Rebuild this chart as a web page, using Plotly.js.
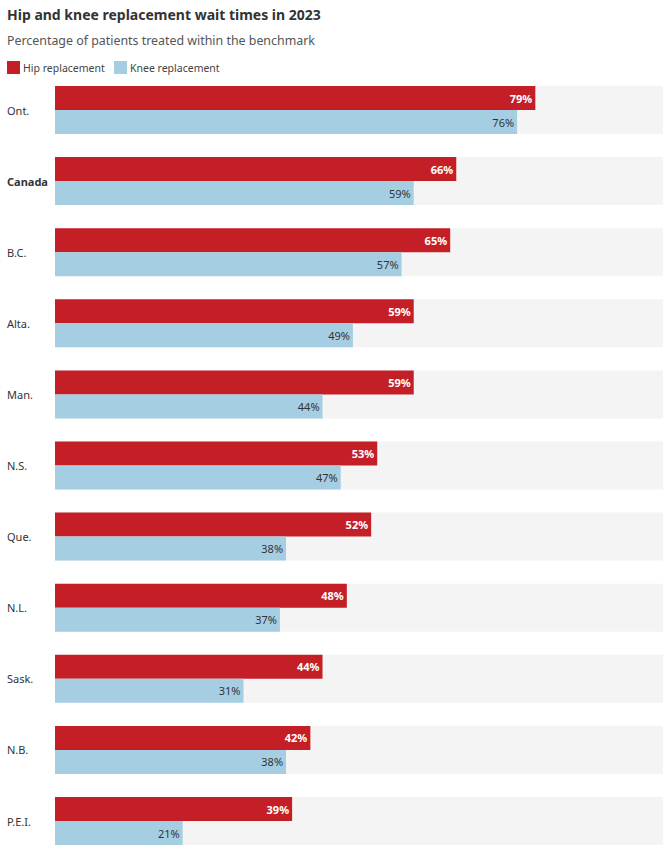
<!DOCTYPE html>
<html>
<head>
<meta charset="utf-8">
<script src="https://cdn.plot.ly/plotly-3.0.1.min.js"></script>
<style>html,body{margin:0;padding:0;background:#fff;}#chart{width:671px;height:854px;}</style>
</head>
<body>
<div id="chart"></div>
<script>
const categories = ["Ont.", "Canada", "B.C.", "Alta.", "Man.", "N.S.", "Que.", "N.L.", "Sask.", "N.B.", "P.E.I."];
const hipValues = [79, 66, 65, 59, 59, 53, 52, 48, 44, 42, 39];
const kneeValues = [76, 59, 57, 49, 44, 47, 38, 37, 31, 38, 21];
const benchmarkMax = categories.map(() => 100);
const seriesNames = ["Hip replacement", "Knee replacement"];
const seriesColors = ["#c41f26", "#a6cee3"];

const FONT = "Noto Sans, sans-serif";
const W = 671, H = 854;
const mL = 55, mR = 8, mT = 74, mB = 0;
const plotW = W - mL - mR, plotH = H - mT - mB;
const step = 71.1;
const topUnits = -(110 - mT) / step;
const bottomUnits = topUnits + plotH / step;
const groupW = 48 / step;
const half = groupW / 2;

const bg = {
  type: "bar", orientation: "h", y: categories, x: benchmarkMax,
  width: groupW, offset: -half,
  marker: {color: "#f4f4f4"}, showlegend: false, hoverinfo: "skip"
};
const hip = {
  type: "bar", orientation: "h", name: seriesNames[0], y: categories, x: hipValues,
  width: half, offset: -half,
  marker: {color: seriesColors[0]},
  text: hipValues.map(v => "<b>" + v + "%</b>"), textposition: "inside", insidetextanchor: "end",
  insidetextfont: {color: "#ffffff", size: 11, family: FONT},
  showlegend: false, hoverinfo: "skip"
};
const knee = {
  type: "bar", orientation: "h", name: seriesNames[1], y: categories, x: kneeValues,
  width: half, offset: 0,
  marker: {color: seriesColors[1]},
  text: kneeValues.map(v => v + "%"), textposition: "inside", insidetextanchor: "end",
  insidetextfont: {color: "#333333", size: 11, family: FONT},
  showlegend: false, hoverinfo: "skip"
};

const px2paperX = p => (p - mL) / plotW;
const px2paperY = p => (H - mB - p) / plotH;

const annotations = categories.map(c => ({
  xref: "paper", yref: "y", x: px2paperX(5), y: c, xanchor: "left", yanchor: "middle",
  text: c === "Canada" ? "<b>" + c + "</b>" : c, showarrow: false,
  font: {family: FONT, size: 11, color: "#333"}
}));
annotations.push({
  xref: "paper", yref: "paper", x: px2paperX(5), y: px2paperY(41), xanchor: "left", yanchor: "middle",
  text: "Percentage of patients treated within the benchmark", showarrow: false,
  font: {family: FONT, size: 12.4, color: "#555"}
});

// legend (swatch + label)
const legendSwatchX = [7, 114];
const shapes = [];
seriesNames.forEach((n, i) => {
  shapes.push({type: "rect", xref: "paper", yref: "paper",
    x0: px2paperX(legendSwatchX[i]), x1: px2paperX(legendSwatchX[i] + 13),
    y0: px2paperY(74), y1: px2paperY(61), fillcolor: seriesColors[i], line: {width: 0}});
  annotations.push({xref: "paper", yref: "paper", x: px2paperX(legendSwatchX[i] + 14), y: px2paperY(67.5),
    xanchor: "left", yanchor: "middle", text: n, showarrow: false,
    font: {family: FONT, size: 10.5, color: "#444"}});
});

const layout = {
  width: W, height: H,
  margin: {l: mL, r: mR, t: mT, b: mB, pad: 0},
  paper_bgcolor: "#fff", plot_bgcolor: "#fff",
  barmode: "overlay",
  title: {text: "<b>Hip and knee replacement wait times in 2023</b>", x: 7 / W, xanchor: "left", xref: "container",
          y: 1 - 15 / H, yanchor: "middle", yref: "container",
          font: {family: FONT, size: 14, color: "#333"}},
  xaxis: {range: [0, 100], showgrid: false, zeroline: false, showticklabels: false, showline: false, fixedrange: true},
  yaxis: {type: "category", range: [bottomUnits, topUnits], showgrid: false, zeroline: false, showticklabels: false, showline: false, ticks: "", fixedrange: true},
  showlegend: false,
  annotations: annotations,
  shapes: shapes,
  font: {family: FONT, color: "#333"},
  hovermode: false
};

Plotly.newPlot("chart", [bg, hip, knee], layout, {displayModeBar: false, staticPlot: true});
</script>
</body>
</html>
